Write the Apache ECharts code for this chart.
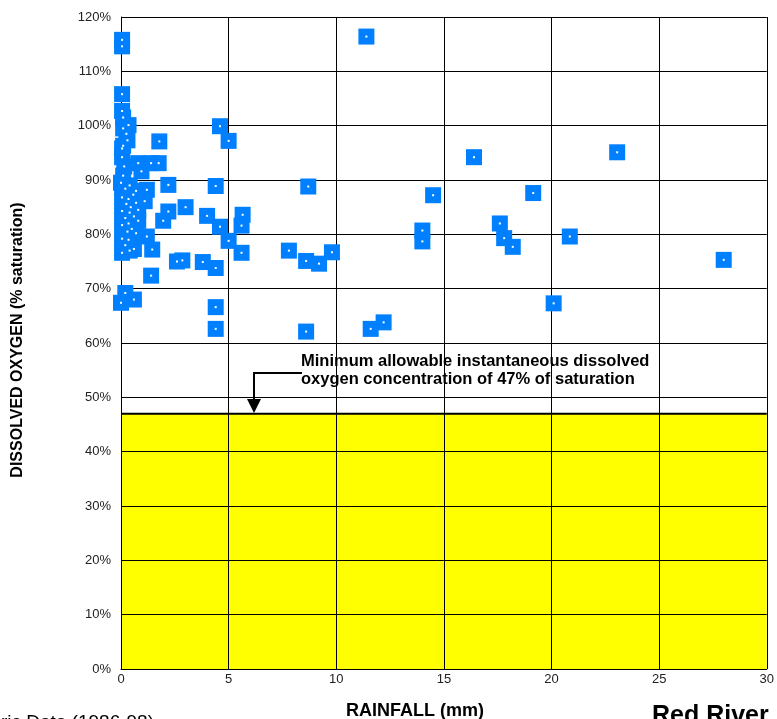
<!DOCTYPE html>
<html>
<head>
<meta charset="utf-8">
<script src="https://cdn.jsdelivr.net/npm/echarts@6/dist/echarts.min.js"></script>
<style>
    html, body { margin: 0; padding: 0; background: #fff; }
    #main { width: 777px; height: 719px; }
</style>
</head>
<body>
<div id="main"></div>
<script type="text/javascript">
    // rainfall (mm) and dissolved oxygen (% saturation)
    var rainfall = [
        11.4, 16.4, 23.05, 8.7, 14.5, 19.15, 14.0, 14.0, 17.6, 17.8, 18.2, 20.85,
        7.8, 8.6, 9.2, 9.8, 20.1, 8.6, 11.6, 12.2, 28.0,
        4.6, 5.0, 4.4, 3.0, 4.0, 4.6, 5.65, 5.6, 5.0, 5.6, 2.6, 2.85, 3.8, 4.4, 4.4, 4.4,
        1.4, 1.78, 2.2, 1.2, 0.57, 1.1, 2.2, 1.96, 0.6, 1.2, 0.6, 1.45,
        0.8, 1.4, 1.75, 0.95, 0.2, 0.6, 0.0,
        0.05, 0.05, 0.05, 0.05, 0.35, 0.1, 0.3, 0.05, 0.05, 0.1, 0.0, 0.2, 0.05,
        0.25, 0.05, 0.2, 0.05, 0.3, 0.05, 0.2, 0.05, 0.5, 0.8, 0.45,
        0.4, 0.7, 0.35, 0.7, 0.4, 0.8, 0.35, 0.7, 0.35, 0.4, 0.15, 0.1, 0.25, 0.1
    ];
    var oxygen = [
        116.4, 94.2, 95.1, 88.8, 87.2, 87.6, 80.7, 78.7, 82.0, 79.3, 77.7, 79.6,
        77.0, 75.1, 74.6, 76.7, 67.3, 62.1, 62.6, 63.8, 75.3,
        99.9, 97.2, 88.9, 85.0, 83.4, 81.4, 83.6, 81.6, 78.8, 76.6, 75.0, 75.2, 74.9, 73.8, 66.6, 62.6,
        72.4, 97.1, 89.1, 88.2, 87.3, 86.1, 84.2, 82.5, 83.3, 79.6, 77.3, 77.2,
        93.1, 93.1, 93.1, 91.6, 69.2, 68.0, 67.4,
        115.8, 114.6, 105.8, 102.7, 100.1, 99.5, 97.3, 95.8, 94.2, 90.8, 89.5, 88.4, 86.8,
        85.6, 84.3, 83.0, 81.7, 80.5, 79.2, 78.0, 76.6, 81.0, 82.5, 85.0,
        89.0, 88.0, 86.5, 85.8, 84.0, 84.5, 82.0, 80.2, 79.0, 77.0, 92.5, 101.5, 98.5, 96.3
    ];
    var minAllowed = 47;   // minimum allowable DO, % saturation

    var points = rainfall.map(function (r, i) { return [r, oxygen[i]]; });

    var myChart = echarts.init(document.getElementById('main'));
    var labelFont = { fontFamily: 'Liberation Sans', fontSize: 13, color: '#222' };

    var option = {
        animation: false,
        grid: { left: 121, top: 17, width: 646, height: 652, containLabel: false },
        xAxis: {
            type: 'value', min: 0, max: 30, interval: 5, z: 3,
            axisLine: { show: true, lineStyle: { color: '#000', width: 1 } },
            axisTick: { show: false },
            axisLabel: Object.assign({ margin: 4 }, labelFont),
            splitLine: { show: true, lineStyle: { color: '#000', width: 1 } }
        },
        yAxis: {
            type: 'value', min: 0, max: 120, interval: 10, z: 3,
            axisLine: { show: true, lineStyle: { color: '#000', width: 1 } },
            axisTick: { show: false },
            axisLabel: Object.assign({ margin: 10, formatter: '{value}%' }, labelFont),
            splitLine: { show: true, lineStyle: { color: '#000', width: 1 } }
        },
        series: [
            {
                // yellow band below the minimum allowable level
                type: 'line',
                data: [[0, minAllowed], [30, minAllowed]],
                symbol: 'none',
                silent: true,
                z: 1,
                lineStyle: { color: '#000', width: 2 },
                areaStyle: { color: '#ffff00', opacity: 1 }
            },
            {
                type: 'scatter',
                data: points,
                symbol: 'rect',
                symbolSize: 16,
                z: 5,
                itemStyle: { color: '#0080ff', opacity: 1 }
            },
            {
                type: 'scatter',
                data: points,
                symbol: 'rect',
                symbolSize: 2,
                silent: true,
                z: 6,
                itemStyle: { color: '#ffffff', opacity: 1 }
            }
        ],
        graphic: [
            {
                type: 'text', x: 18, y: 340, rotation: Math.PI / 2,
                style: {
                    text: 'DISSOLVED OXYGEN (% saturation)', font: 'bold 16px "Liberation Sans"',
                    fill: '#000', textAlign: 'center', textVerticalAlign: 'middle'
                }
            },
            {
                type: 'text', x: 415, y: 711,
                style: {
                    text: 'RAINFALL (mm)', font: 'bold 18px "Liberation Sans"',
                    fill: '#000', textAlign: 'center', textVerticalAlign: 'middle'
                }
            },
            {
                type: 'text', x: 301, y: 352,
                style: {
                    text: 'Minimum allowable instantaneous dissolved\noxygen concentration of 47% of saturation',
                    font: 'bold 16.5px "Liberation Sans"', lineHeight: 18.5,
                    fill: '#000', textAlign: 'left', textVerticalAlign: 'top'
                }
            },
            {
                type: 'polyline',
                shape: { points: [[302, 373], [254, 373], [254, 401]] },
                style: { stroke: '#000', lineWidth: 2, fill: null }
            },
            {
                type: 'polygon',
                shape: { points: [[247, 399], [261, 399], [254, 413]] },
                style: { fill: '#000' }
            },
            {
                type: 'text', x: 154, y: 713,
                style: {
                    text: 'Historic Data (1986-98)', font: '19px "Liberation Sans"',
                    fill: '#000', textAlign: 'right', textVerticalAlign: 'top'
                }
            },
            {
                type: 'text', x: 652, y: 704,
                style: {
                    text: 'Red River', font: 'bold 25px "Liberation Sans"',
                    fill: '#000', textAlign: 'left', textVerticalAlign: 'top'
                }
            }
        ]
    };
    myChart.setOption(option);
</script>
</body>
</html>
